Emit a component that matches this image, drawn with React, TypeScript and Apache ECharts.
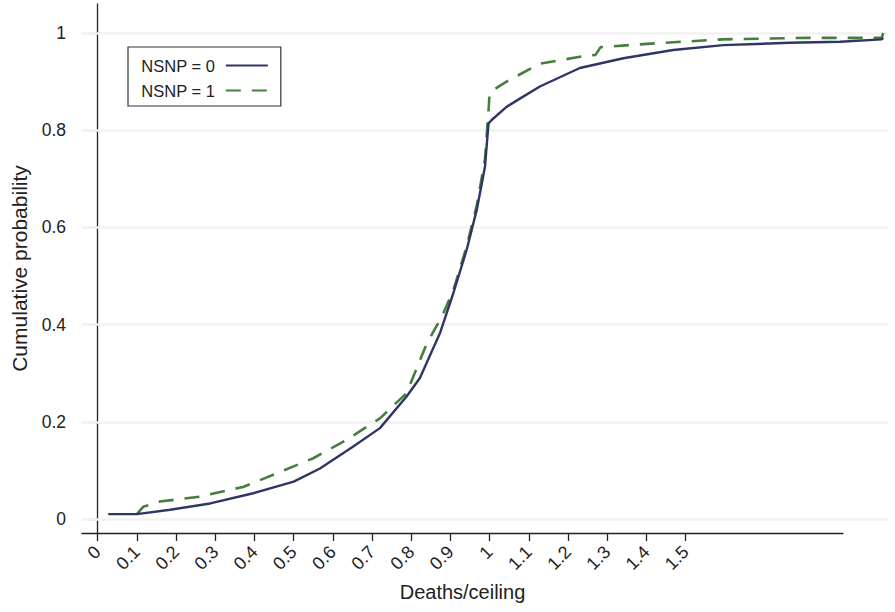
import React, { useEffect, useRef } from "react";
import * as echarts from "echarts";

const xTickValues = [0, 0.1, 0.2, 0.3, 0.4, 0.5, 0.6, 0.7, 0.8, 0.9, 1, 1.1, 1.2, 1.3, 1.4, 1.5];
const yTickValues = [0, 0.2, 0.4, 0.6, 0.8, 1];

const nsnp0: [number, number][] = [
  [0.027, 0.01], [0.1, 0.01], [0.185, 0.019], [0.287, 0.032], [0.397, 0.053], [0.5, 0.077],
  [0.567, 0.104], [0.652, 0.149], [0.72, 0.187], [0.788, 0.252], [0.822, 0.29], [0.873, 0.382],
  [0.907, 0.464], [0.941, 0.553], [0.967, 0.636], [0.988, 0.725], [0.997, 0.814], [1.005, 0.821],
  [1.043, 0.848], [1.077, 0.865], [1.128, 0.89], [1.23, 0.928], [1.341, 0.948], [1.468, 0.965],
  [1.596, 0.975], [1.766, 0.98], [1.894, 0.982], [2.0, 0.987], [2.004, 0.99],
];

const nsnp1: [number, number][] = [
  [0.1, 0.01], [0.116, 0.025], [0.159, 0.036], [0.261, 0.046], [0.371, 0.066], [0.457, 0.094],
  [0.55, 0.125], [0.635, 0.163], [0.72, 0.207], [0.788, 0.259], [0.839, 0.36], [0.88, 0.42],
  [0.907, 0.47], [0.941, 0.56], [0.967, 0.645], [0.988, 0.74], [0.997, 0.84], [1.0, 0.878],
  [1.043, 0.9], [1.128, 0.937], [1.23, 0.951], [1.27, 0.955], [1.283, 0.971], [1.426, 0.979],
  [1.596, 0.987], [1.809, 0.99], [2.0, 0.99], [2.004, 1.0],
];

const seriesNames = ["NSNP = 0", "NSNP = 1"];

export default function App() {
  const ref = useRef<HTMLDivElement>(null);
  useEffect(() => {
    if (!ref.current) return;
    const chart = echarts.init(ref.current, undefined, { renderer: "svg" });
    const font = "'Liberation Sans', Arial, Helvetica, sans-serif";
    const axisColor = "#222";
    chart.setOption({
      animation: false,
      backgroundColor: "#fff",
      textStyle: { fontFamily: font },
      grid: [
        { left: 82, top: 4, width: 806, height: 529 },
        { left: 82, top: 4, width: 761, height: 529 },
      ],
      legend: {
        left: 128,
        top: 47,
        orient: "vertical",
        align: "right",
        itemWidth: 42,
        itemHeight: 14,
        itemGap: 8,
        padding: [10, 12, 7, 13],
        borderColor: "#333",
        borderWidth: 1.2,
        backgroundColor: "#fff",
        itemStyle: { opacity: 0 },
        textStyle: { fontFamily: font, fontSize: 16.5, color: "#222", padding: [0, 6, 0, 0] },
        data: seriesNames,
      },
      xAxis: [
        {
          type: "value", gridIndex: 0, min: -0.04, max: 2.0161, show: false,
          splitLine: { show: false },
        },
        {
          type: "value", gridIndex: 1, min: -0.04, max: 1.9013,
          name: "Deaths/ceiling", nameLocation: "middle", nameGap: 49,
          nameTextStyle: { fontSize: 20, color: axisColor, fontFamily: font },
          axisLine: { show: true, lineStyle: { color: axisColor, width: 1.3 } },
          axisTick: { show: true, length: 8, customValues: xTickValues, lineStyle: { color: axisColor, width: 1.3 } },
          axisLabel: {
            customValues: xTickValues,
            rotate: 45,
            margin: 16,
            hideOverlap: false,
            fontSize: 18,
            color: axisColor,
            fontFamily: font,
            formatter: (v: number) => String(v),
          },
          splitLine: { show: false },
        },
      ],
      yAxis: [
        {
          type: "value", gridIndex: 0, min: -0.0288, max: 1.0597,
          name: "Cumulative probability", nameLocation: "middle", nameGap: 52,
          nameTextStyle: { fontSize: 21, color: axisColor, fontFamily: font },
          axisLine: { show: true, lineStyle: { color: axisColor, width: 1.3 } },
          axisTick: { show: true, length: 8, customValues: yTickValues, lineStyle: { color: axisColor, width: 1.3 } },
          axisLabel: {
            customValues: yTickValues, fontSize: 17.5, color: axisColor, margin: 16,
            fontFamily: font, formatter: (v: number) => String(v),
          },
          splitLine: { show: false },
        },
        { type: "value", gridIndex: 1, min: 0, max: 1, show: false, splitLine: { show: false } },
      ],
      series: [
        {
          name: seriesNames[0],
          type: "line",
          xAxisIndex: 0,
          yAxisIndex: 0,
          data: nsnp0,
          symbol: "none",
          z: 4,
          lineStyle: { color: "#2f3564", width: 2.4, type: "solid" },
          itemStyle: { color: "#2f3564" },
          markLine: {
            silent: true,
            symbol: ["none", "none"],
            z: 1,
            label: { show: false },
            lineStyle: { color: "#f2f2f2", width: 2.5, type: "solid" },
            data: yTickValues.map((v) => ({ yAxis: v })),
          },
        },
        {
          name: seriesNames[1],
          type: "line",
          xAxisIndex: 0,
          yAxisIndex: 0,
          data: nsnp1,
          symbol: "none",
          z: 3,
          lineStyle: { color: "#447f3d", width: 2.6, type: [15, 11] },
          itemStyle: { color: "#447f3d" },
        },
      ],
    });
    return () => chart.dispose();
  }, []);
  return (
    <div
      ref={ref}
      style={{ position: "fixed", left: 0, top: 0, width: 895, height: 612 }}
    />
  );
}
